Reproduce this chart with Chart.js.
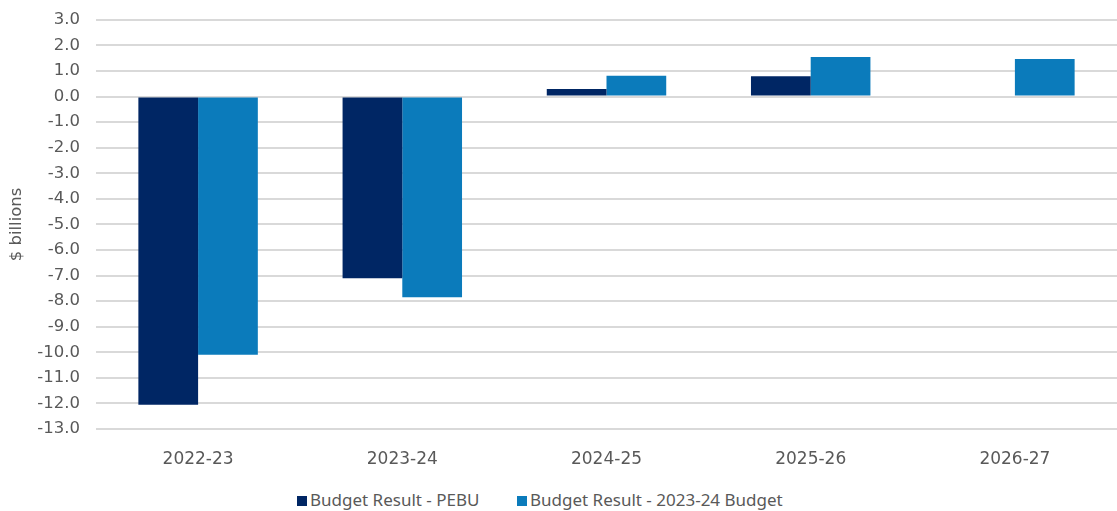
<!DOCTYPE html>
<html>
<head>
<meta charset="utf-8">
<script src="https://cdn.jsdelivr.net/npm/chart.js@4"></script>
<style>
  html, body { margin: 0; padding: 0; background: #fff; overflow: hidden; }
  #wrap { width: 1117px; height: 511px; position: relative; overflow: hidden; }
  #chartBox { position: absolute; left: 0; top: -6px; width: 1117px; height: 474px; }
  #legend { position: absolute; left: 0; top: 489px; width: 1117px; height: 22px;
            font-family: 'Noto Sans', sans-serif; font-size: 17px; color: #595959; }
  .item { position: absolute; top: 0; white-space: nowrap; line-height: 22px; }
  .box { display: inline-block; width: 10px; height: 10px; margin-right: 3px; vertical-align: 0px; }
</style>
</head>
<body>
<div id="wrap">
  <div id="chartBox"><canvas id="myChart"></canvas></div>
  <div id="legend"></div>
</div>
<script>
// data
var years = ['2022-23', '2023-24', '2024-25', '2025-26', '2026-27']
var pebu = [-12.05, -7.1, 0.3, 0.8, null]
var budget = [-10.1, -7.85, 0.82, 1.55, 1.47]
var seriesNames = ['Budget Result - PEBU', 'Budget Result - 2023-24 Budget']
var colors = ['#002664', '#0b7bbb']
var yMin = -13
var yMax = 3

// legend as html, like the original
var legendX = [297, 517]
var legend = document.getElementById('legend')
seriesNames.forEach((name, i) => {
    var el = document.createElement('div')
    el.className = 'item'
    el.style.left = legendX[i] + 'px'
    el.innerHTML = '<span class="box" style="background:' + colors[i] + '"></span>' + name
    legend.appendChild(el)
})

var ctx = document.getElementById('myChart')
Chart.defaults.font.family = "'DejaVu Sans', sans-serif"
Chart.defaults.color = '#595959'

new Chart(ctx, {
    type: 'bar',
    data: {
        labels: years,
        datasets: [{
            label: seriesNames[0],
            data: pebu,
            backgroundColor: colors[0],
            borderWidth: 0
        }, {
            label: seriesNames[1],
            data: budget,
            backgroundColor: colors[1],
            borderWidth: 0
        }]
    },
    options: {
        responsive: true,
        maintainAspectRatio: false,
        animation: false,
        layout: { padding: { top: 1, right: 0, bottom: 0, left: 0 } },
        datasets: {
            bar: { categoryPercentage: 0.585, barPercentage: 1 }
        },
        plugins: {
            tooltip: { enabled: false },
            legend: { display: false }
        },
        scales: {
            x: {
                grid: { display: false },
                border: { display: false },
                ticks: { font: { size: 17 }, padding: 12 },
                afterFit: function (scale) { scale.height = 39 }
            },
            y: {
                min: yMin,
                max: yMax,
                afterFit: function (scale) { scale.width = 96 },
                grid: { color: '#d9d9d9', lineWidth: 2, drawTicks: false },
                border: { display: false },
                ticks: {
                    stepSize: 1,
                    padding: 16,
                    font: { size: 16.5 },
                    callback: function (v) { return v.toFixed(1) }
                },
                title: {
                    display: true,
                    text: '$ billions',
                    font: { size: 16.5 },
                    padding: { top: 7, bottom: 2 }
                }
            }
        }
    }
})
</script>
</body>
</html>
